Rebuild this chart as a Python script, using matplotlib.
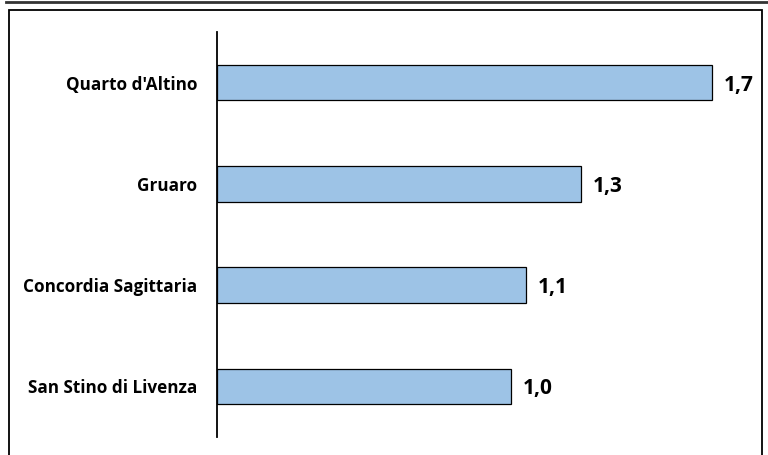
import matplotlib.pyplot as plt
from matplotlib.lines import Line2D
from matplotlib.patches import Rectangle

# data (top to bottom)
comuni = ["Quarto d'Altino", "Gruaro", "Concordia Sagittaria", "San Stino di Livenza"]
valori = [1.70, 1.25, 1.06, 1.01]
etichette = ["1,7", "1,3", "1,1", "1,0"]

plt.rcParams['font.family'] = ['Open Sans', 'DejaVu Sans']

fig = plt.figure(figsize=(7.68, 4.55), dpi=100)
ax = fig.add_axes([217 / 768, 1 - 437 / 455, (750 - 217) / 768, (437 - 32) / 455])

pos = list(range(len(comuni)))
ax.barh(pos, valori, height=0.35, color="#9DC3E6", edgecolor="black", linewidth=0.9)
ax.set_ylim(len(comuni) - 0.5, -0.5)
ax.set_xlim(0, 1.83)

for p, v, t in zip(pos, valori, etichette):
    ax.text(v + 0.04, p, t, va="center_baseline", ha="left", fontsize=15, fontweight="bold")

ax.set_yticks(pos)
ax.set_yticklabels(comuni, fontsize=12.3, fontweight="bold")
ax.tick_params(axis="y", length=0, pad=14)
ax.set_xticks([])
for s in ["top", "right", "bottom"]:
    ax.spines[s].set_visible(False)
ax.spines["left"].set_linewidth(1.3)

# outer frame and the line of the box above
fig.patches.append(Rectangle((8.5 / 768, -0.05), (761.5 - 8.5) / 768, 1 - 9.5 / 455 + 0.05,
                             transform=fig.transFigure, fill=False, edgecolor="black", linewidth=1.3))
fig.lines.append(Line2D([6 / 768, 1], [1 - 1.5 / 455] * 2, transform=fig.transFigure,
                        color="#333333", linewidth=2))

fig.savefig("out.png", dpi=100)
